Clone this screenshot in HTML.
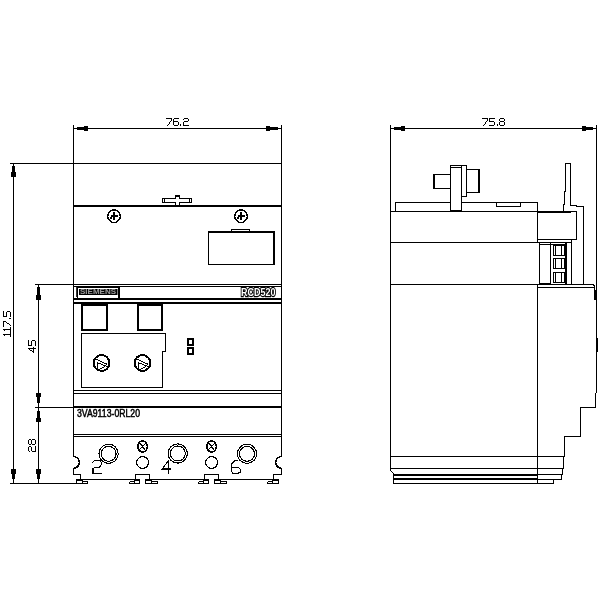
<!DOCTYPE html>
<html><head><meta charset="utf-8">
<style>
html,body{margin:0;padding:0;background:#fff;}
body{width:600px;height:600px;overflow:hidden;}
svg{display:block;will-change:transform;}
text{font-family:"Liberation Sans", sans-serif;}
</style></head>
<body>
<svg width="600" height="600" viewBox="0 0 600 600">
<rect x="0" y="0" width="600" height="600" fill="#fff"/>
<g fill="none" stroke="#000" stroke-width="1" shape-rendering="crispEdges">
<!-- ===== LEFT VIEW ===== -->
<!-- dimension 76.2 -->
<path d="M73.5 125V456.5 M73.5 468V474.5 M281.5 125V456.5 M281.5 468V474.5 M73 128.5H281"/>
<!-- top ext line -->
<path d="M10 163.5H281"/>
<!-- thick line -->
<path d="M73 206H281" stroke-width="2"/>
<!-- handle -->
<path d="M175.5 205V202.5H162.5V198.5H175.5V195.5H179.5V198.5H191.5V202.5H179.5V205"/>
<path d="M164.5 199V202 M189.5 199V202"/>
<path d="M175 196H180" stroke-width="2"/>
<!-- screws top -->
<circle cx="114" cy="216.2" r="6.3" stroke-width="1.4"/>
<circle cx="241" cy="216.2" r="6.3" stroke-width="1.4"/>
<path d="M114 212V220 M110.5 216H118 M109.5 218H112" stroke-width="1.6"/>
<path d="M241 212V220 M237.5 216H245 M236.5 218H239" stroke-width="1.6"/>
<!-- rect top -->
<path d="M208.5 231V264.5H274"/>
<path d="M208 232H275 M274 231V265" stroke-width="2"/>
<path d="M231.5 231V229.5H249.5V231"/>
<!-- lines at 284/286 -->
<path d="M35 284.5H281 M73 286.5H281"/>
<path d="M73 299H281 M73 303H281" stroke-width="2"/>
<!-- siemens box -->
<path d="M77.5 298V286.8H118" stroke-width="1.4"/>
<path d="M119 286V298" stroke-width="2"/>
<path d="M76.5 287V297" stroke-width="0.8"/>
<!-- squares -->
<rect x="82" y="304" width="25" height="26" stroke-width="2"/>
<path d="M81 304.5H108" stroke-width="2.5"/>
<rect x="138" y="304" width="24" height="26" stroke-width="2"/>
<path d="M137 304.5H163" stroke-width="2.5"/>
<!-- large rect -->
<path d="M81.5 333.5H165.5V351.5H162.5V387.5H81.5Z"/>
<!-- screws mid -->
<circle cx="101.6" cy="363" r="7.9" stroke-width="2"/>
<circle cx="142.5" cy="363" r="7.9" stroke-width="2"/>
<path d="M96 359L107.5 364.5 M97 362.5L107 366.5 M97.5 363V370L105 366.5"/>
<path d="M137 359L148.5 364.5 M138 362.5L148 366.5 M138.5 363V370L146 366.5"/>
<!-- small squares -->
<rect x="188" y="339" width="5" height="6" stroke-width="2"/>
<rect x="188" y="348" width="5" height="6" stroke-width="2"/>
<!-- lines 390/393 -->
<path d="M73 390.5H281 M73 393.5H281"/>
<path d="M73 407H281" stroke-width="2"/>
<path d="M35 407.5H73"/>
<!-- double line 435/437 -->
<path d="M73 434.5H281 M73 436.5H281"/>
<!-- terminals big circles -->
<circle cx="108.6" cy="453.8" r="9.6" stroke-width="1.1"/>
<circle cx="108.6" cy="453.8" r="7.5" stroke-width="1.1"/>
<circle cx="177.8" cy="453.5" r="9.6" stroke-width="1.1"/>
<circle cx="177.8" cy="453.5" r="7.5" stroke-width="1.1"/>
<circle cx="247" cy="453.8" r="9.6" stroke-width="1.1"/>
<circle cx="247" cy="453.8" r="7.5" stroke-width="1.1"/>
<!-- small screws & circles -->
<ellipse cx="142.6" cy="446.5" rx="4.8" ry="5.6" stroke-width="1.6"/>
<ellipse cx="211.6" cy="446.5" rx="4.8" ry="5.6" stroke-width="1.6"/>
<path d="M140 443.5L145 449.5 M145.5 443.5L139.5 449.5" stroke-width="1.4"/>
<path d="M209 443.5L214 449.5 M214.5 443.5L208.5 449.5" stroke-width="1.4"/>
<circle cx="142.6" cy="462.5" r="5.9" stroke-width="1.2"/>
<circle cx="211.6" cy="462.5" r="5.9" stroke-width="1.2"/>
<!-- digits -->
<path d="M92.3 462.5L94.3 460.5H100L101.3 462.3V464.7L99.3 467.3H95.3L93 468.7V473.3H101.7" stroke-width="1.1"/>
<path d="M168.5 460.3V473.7 M168.5 460.3L162.3 469H170.7" stroke-width="1.1"/>
<path d="M237.7 460.3H235.3L231.7 463.7V471.7L233 473.3H237.7L240.3 472V469.2L238.7 467.8H231.7" stroke-width="1.1"/>
<!-- notches & bottom -->
<path d="M73.5 456.5A5.9 5.9 0 0 1 73.5 468.3" stroke-width="1.5"/>
<path d="M281.5 456.5A5.9 5.9 0 0 0 281.5 468.3" stroke-width="1.5"/>
<path d="M73 474.5H80.5V479.5 M282 474.5H273.5V479.5"/>
<path d="M80 479.5H135.5 M149.5 479.5H204.5 M218.5 479.5H274"/>
<!-- feet -->
<path d="M135.5 480V474.5H149.5V480 M204.5 480V474.5H218.5V480"/>
<path d="M76.5 480V483.5H87.5V481.5H82.5 M82.5 483V480.5 M76 480H83" />
<path d="M76 480H83" stroke-width="2"/>
<path d="M129.5 481.5V483.5H139.5V479.5 M129.5 481.5H134.5 M134.5 480V483" />
<path d="M134 480H140" stroke-width="2"/>
<path d="M157.5 481.5V483.5H145.5V479.5 M157.5 481.5H151.5 M151.5 480V483" />
<path d="M145 480H152" stroke-width="2"/>
<path d="M198.5 481.5V483.5H208.5V479.5 M198.5 481.5H203.5 M203.5 480V483" />
<path d="M203 480H209" stroke-width="2"/>
<path d="M226.5 481.5V483.5H214.5V479.5 M226.5 481.5H220.5 M220.5 480V483" />
<path d="M214 480H221" stroke-width="2"/>
<path d="M267.5 481.5V483.5H278.5V479.5 M267.5 481.5H272.5 M272.5 480V483" />
<path d="M272 480H279" stroke-width="2"/>
<path d="M10 483.5H77"/>
<!-- left dims -->
<path d="M13.5 163V483 M38.5 284V483"/>
</g>
<!-- arrows (filled) -->
<g fill="#000">
<rect x="77" y="127" width="7" height="3"/><rect x="84" y="126" width="4" height="5"/>
<rect x="270" y="127" width="8" height="3"/><rect x="266" y="126" width="4" height="5"/>
<rect x="12" y="166" width="3" height="6"/><rect x="11" y="172" width="5" height="5"/>
<rect x="12" y="473" width="3" height="6"/><rect x="11" y="469" width="5" height="5"/>
<rect x="37" y="287" width="3" height="8"/><rect x="36" y="295" width="5" height="5"/>
<rect x="37" y="397" width="3" height="6"/><rect x="36" y="393" width="5" height="4"/>
<rect x="37" y="411" width="3" height="7"/><rect x="36" y="418" width="5" height="4"/>
<rect x="37" y="473" width="3" height="6"/><rect x="36" y="469" width="5" height="5"/>
<!-- siemens inner -->
<rect x="79" y="289" width="38.5" height="6"/>
</g>
<text x="80" y="294.3" font-size="7.2" font-weight="bold" fill="#fff" textLength="36" lengthAdjust="spacingAndGlyphs" opacity="0.6">SIEMENS</text>
<text x="241" y="296.2" font-size="11.8" font-weight="bold" fill="#fff" stroke="#000" stroke-width="2.3" style="paint-order:stroke" textLength="34.5" lengthAdjust="spacingAndGlyphs">RCD520</text>
<text x="77" y="416.8" font-size="10.6" stroke="#000" stroke-width="0.5" textLength="63" lengthAdjust="spacingAndGlyphs">3VA9113-0RL20</text>

<!-- ===== RIGHT VIEW ===== -->
<g fill="none" stroke="#000" stroke-width="1" shape-rendering="crispEdges">
<path d="M390.5 125V470.5L393.5 473.5V484"/>
<path d="M596.5 125V393 M595.5 393V407.5H580.5V436.5H564.5V456.5"/>
<path d="M390 128.5H597"/>
<!-- plate -->
<path d="M395.5 211V202.5H537.5V242"/>
<rect x="496.5" y="202.5" width="24" height="4"/>
<!-- knob -->
<path d="M433 174.5H451 M433 188.5H451"/>
<path d="M434 174V189" stroke-width="2"/>
<rect x="450.5" y="165.5" width="11" height="45" fill="#fff"/>
<path d="M450 211H462" stroke-width="2"/>
<path d="M451 167.5H461"/>
<rect x="461.5" y="165.5" width="5" height="31"/>
<path d="M466 169.5H479 M466 192.5H479"/>
<path d="M479 169V193" stroke-width="2"/>
<!-- main lines -->
<path d="M390 211.5H450 M462 211.5H537"/>
<path d="M537 212H571" stroke-width="2"/>
<path d="M571 211.5H577 M576.5 211V240 M537 239.5H577"/>
<!-- L clip -->
<path d="M565.5 163.5V192 M564.5 191V205 M563.5 204V211 M565 163.5H571 M570.5 163V205.5H576.5V206.5H583.5V284"/>
<path d="M390 242.5H572"/>
<!-- terminal block -->
<path d="M539.5 243V284 M550.5 243V284 M571.5 239V284"/>
<path d="M566 243V284" stroke-width="2"/>
<path d="M539 244.5H566"/>
<path d="M539 284H551" stroke-width="2"/>
<rect x="553.5" y="245.5" width="11" height="10"/>
<rect x="553.5" y="258.5" width="11" height="10"/>
<rect x="553.5" y="272.5" width="11" height="10"/>
<path d="M555.5 245V256 M561.5 245V256 M555.5 258V269 M561.5 258V269 M555.5 272V283 M561.5 272V283"/>
<!-- 284/287 -->
<path d="M390 284.5H593L594.5 286V291"/>
<path d="M537 287.5H594"/>
<path d="M537.5 284V484"/>
<path d="M595 290V300 M597 338V352" stroke-width="1.5"/>
<!-- bottom stack -->
<path d="M390 456.5H564"/>
<path d="M563.5 456V469 M562.5 468V475 M561.5 474V480 M553.5 479V484"/>
<path d="M390 468.5H563"/>
<path d="M393 475H537 M393 479H537" stroke-width="2"/>
<path d="M537 474.5H562 M537 479.5H561"/>
<path d="M393 483.5H554"/>
</g>
<g fill="#000">
<rect x="394" y="127" width="7" height="3"/><rect x="401" y="126" width="4" height="5"/>
<rect x="586" y="127" width="7" height="3"/><rect x="582" y="126" width="4" height="5"/>
</g>
<path fill="#000" shape-rendering="crispEdges" d="M166 118h6v1h-6zM174 118h5v1h-5zM184 118h4v1h-4zM482 118h6v1h-6zM489 118h6v1h-6zM500 118h4v1h-4zM171 119h1v1h-1zM173 119h1v1h-1zM183 119h1v1h-1zM188 119h1v1h-1zM487 119h1v1h-1zM489 119h1v1h-1zM499 119h1v1h-1zM504 119h1v1h-1zM171 120h1v1h-1zM173 120h1v1h-1zM188 120h1v1h-1zM487 120h1v1h-1zM489 120h1v1h-1zM499 120h1v1h-1zM504 120h1v1h-1zM170 121h1v1h-1zM173 121h5v1h-5zM184 121h4v1h-4zM486 121h1v1h-1zM489 121h5v1h-5zM500 121h4v1h-4zM169 122h1v1h-1zM173 122h1v1h-1zM178 122h1v1h-1zM183 122h1v1h-1zM485 122h1v1h-1zM494 122h1v1h-1zM499 122h1v1h-1zM504 122h1v1h-1zM169 123h1v1h-1zM173 123h1v1h-1zM178 123h1v1h-1zM183 123h1v1h-1zM485 123h1v1h-1zM494 123h1v1h-1zM499 123h1v1h-1zM504 123h1v1h-1zM168 124h1v1h-1zM173 124h1v1h-1zM178 124h1v1h-1zM180 124h1v1h-1zM183 124h1v1h-1zM484 124h1v1h-1zM494 124h1v1h-1zM497 124h1v1h-1zM499 124h1v1h-1zM504 124h1v1h-1zM167 125h1v1h-1zM174 125h4v1h-4zM180 125h1v1h-1zM183 125h6v1h-6zM483 125h1v1h-1zM489 125h5v1h-5zM497 125h1v1h-1zM500 125h4v1h-4zM3 311h1v1h-1zM7 311h3v1h-3zM3 312h1v1h-1zM6 312h1v1h-1zM10 312h1v1h-1zM3 313h1v1h-1zM6 313h1v1h-1zM10 313h1v1h-1zM3 314h1v1h-1zM6 314h1v1h-1zM10 314h1v1h-1zM3 315h1v1h-1zM6 315h1v1h-1zM10 315h1v1h-1zM3 316h4v1h-4zM10 316h1v1h-1zM9 318h2v1h-2zM3 321h3v1h-3zM3 322h1v1h-1zM6 322h1v1h-1zM3 323h1v1h-1zM7 323h2v1h-2zM3 324h1v1h-1zM9 324h1v1h-1zM3 325h1v1h-1zM10 325h1v1h-1zM3 326h1v1h-1zM10 327h1v1h-1zM10 328h1v1h-1zM3 329h8v1h-8zM4 330h1v1h-1zM10 330h1v1h-1zM10 331h1v1h-1zM10 332h1v1h-1zM10 333h1v1h-1zM3 334h8v1h-8zM4 335h1v1h-1zM10 335h1v1h-1zM10 336h1v1h-1zM28 340h1v1h-1zM32 340h3v1h-3zM28 341h1v1h-1zM31 341h1v1h-1zM35 341h1v1h-1zM28 342h1v1h-1zM31 342h1v1h-1zM35 342h1v1h-1zM28 343h1v1h-1zM31 343h1v1h-1zM35 343h1v1h-1zM28 344h1v1h-1zM31 344h1v1h-1zM35 344h1v1h-1zM28 345h4v1h-4zM35 345h1v1h-1zM33 347h1v1h-1zM28 348h8v1h-8zM29 349h1v1h-1zM33 349h1v1h-1zM30 350h2v1h-2zM33 350h1v1h-1zM32 351h2v1h-2zM33 352h1v1h-1zM29 439h2v1h-2zM32 439h3v1h-3zM28 440h1v1h-1zM31 440h1v1h-1zM35 440h1v1h-1zM28 441h1v1h-1zM31 441h1v1h-1zM35 441h1v1h-1zM28 442h1v1h-1zM31 442h1v1h-1zM35 442h1v1h-1zM28 443h1v1h-1zM31 443h1v1h-1zM35 443h1v1h-1zM29 444h2v1h-2zM32 444h3v1h-3zM29 446h2v1h-2zM35 446h1v1h-1zM28 447h1v1h-1zM31 447h1v1h-1zM35 447h1v1h-1zM28 448h1v1h-1zM31 448h1v1h-1zM35 448h1v1h-1zM28 449h1v1h-1zM31 449h1v1h-1zM35 449h1v1h-1zM28 450h1v1h-1zM31 450h1v1h-1zM35 450h1v1h-1zM29 451h1v1h-1zM32 451h4v1h-4z"/>
</svg>
</body></html>
